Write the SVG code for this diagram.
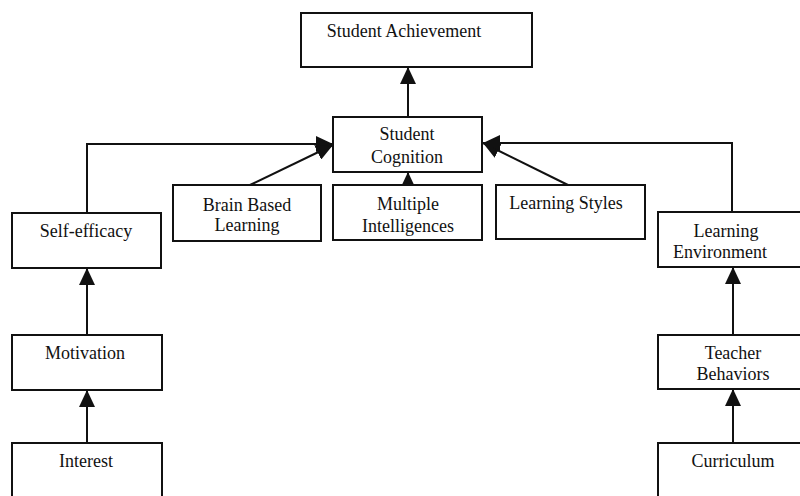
<svg xmlns="http://www.w3.org/2000/svg" width="800" height="496" viewBox="0 0 800 496">
<style>
.box{fill:#fff;stroke:#111;stroke-width:2}
.lbl{font-family:"Liberation Serif","Times New Roman",serif;font-size:18px;fill:#111;text-anchor:middle}
.con{fill:none;stroke:#111;stroke-width:2;marker-end:url(#ah)}
</style>
<defs>
<marker id="ah" markerUnits="userSpaceOnUse" markerWidth="17" markerHeight="16" refX="17" refY="8" orient="auto">
<path d="M0,0 L17,8 L0,16 z" fill="#111"/>
</marker>
</defs>
<rect width="800" height="496" fill="#fff"/>
<g id="connectors">
<path class="con" d="M408,117 V67"/>
<path class="con" d="M87,213 V144 H333"/>
<path class="con" d="M250,185 L333,145"/>
<path class="con" d="M408,190 V172"/>
<path class="con" d="M568,185 L483,143"/>
<path class="con" d="M732,212 V143 H483"/>
<path class="con" d="M87,335 V268"/>
<path class="con" d="M87,443 V390"/>
<path class="con" d="M733,335 V267"/>
<path class="con" d="M733,443 V389"/>
</g>
<g id="achievement"><rect class="box" x="301" y="13" width="231" height="54"/><text class="lbl" x="404" y="37">Student Achievement</text></g>
<g id="cognition"><rect class="box" x="333" y="117" width="149" height="55"/><text class="lbl" x="407" y="140">Student</text><text class="lbl" x="407" y="163">Cognition</text></g>
<g id="brain"><rect class="box" x="173" y="185" width="148" height="56"/><text class="lbl" x="247" y="211">Brain Based</text><text class="lbl" x="247" y="231">Learning</text></g>
<g id="multiple"><rect class="box" x="333" y="185" width="149" height="55"/><text class="lbl" x="408" y="210">Multiple</text><text class="lbl" x="408" y="232">Intelligences</text></g>
<g id="styles"><rect class="box" x="496" y="185" width="149" height="54"/><text class="lbl" x="566" y="209">Learning Styles</text></g>
<g id="selfefficacy"><rect class="box" x="12" y="213" width="149" height="55"/><text class="lbl" x="86" y="237">Self-efficacy</text></g>
<g id="motivation"><rect class="box" x="12" y="335" width="150" height="55"/><text class="lbl" x="85" y="359">Motivation</text></g>
<g id="interest"><rect class="box" x="12" y="443" width="150" height="60"/><text class="lbl" x="86" y="467">Interest</text></g>
<g id="environment"><rect class="box" x="658" y="212" width="150" height="55"/><text class="lbl" x="726" y="237">Learning</text><text class="lbl" x="720" y="258">Environment</text></g>
<g id="teacher"><rect class="box" x="658" y="335" width="150" height="54"/><text class="lbl" x="733" y="359">Teacher</text><text class="lbl" x="733" y="380">Behaviors</text></g>
<g id="curriculum"><rect class="box" x="658" y="443" width="150" height="60"/><text class="lbl" x="733" y="467">Curriculum</text></g>
</svg>
